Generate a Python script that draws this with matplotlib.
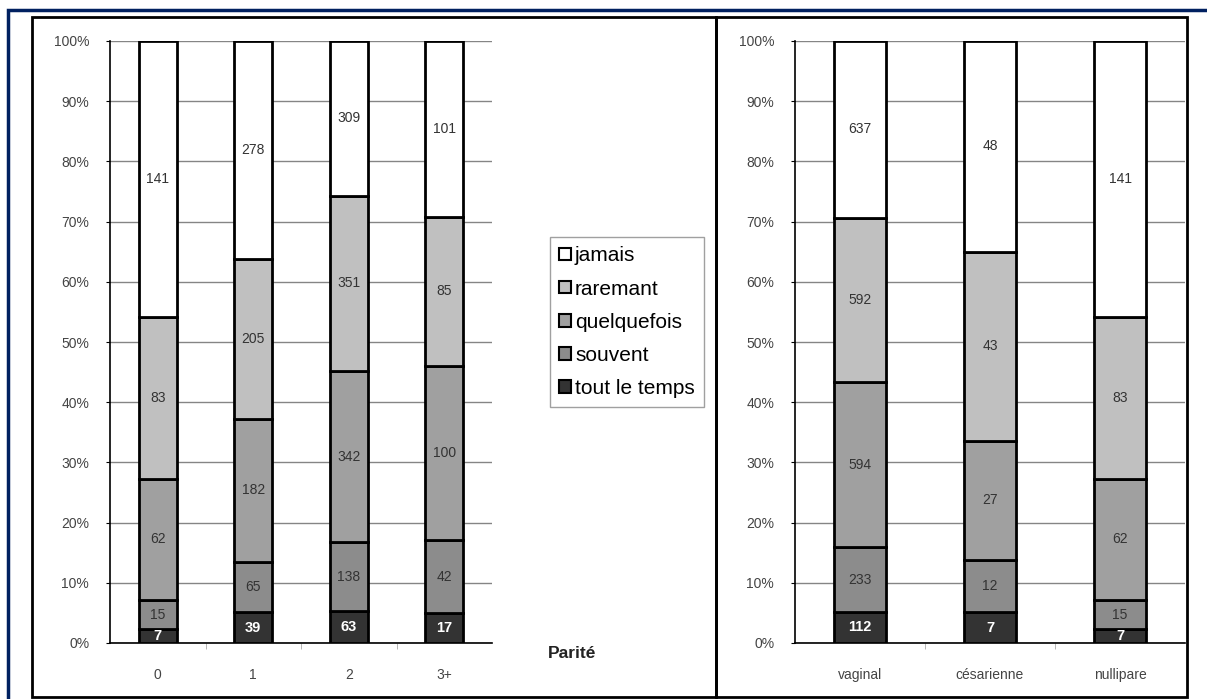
import matplotlib
matplotlib.use('Agg')
import matplotlib.pyplot as plt
import numpy as np
from matplotlib.patches import Rectangle, Patch
from matplotlib.ticker import FixedLocator, PercentFormatter

# Data: counts per frequency level, bottom to top
levels = ['tout le temps', 'souvent', 'quelquefois', 'raremant', 'jamais']
colors = ['#333333', '#8c8c8c', '#a0a0a0', '#c0c0c0', '#ffffff']

parite_cats = ['0', '1', '2', '3+']
parite_tout = [7, 39, 63, 17]
parite_souvent = [15, 65, 138, 42]
parite_quelque = [62, 182, 342, 100]
parite_rare = [83, 205, 351, 85]
parite_jamais = [141, 278, 309, 101]

mode_cats = ['vaginal', 'césarienne', 'nullipare']
mode_tout = [112, 7, 7]
mode_souvent = [233, 12, 15]
mode_quelque = [594, 27, 62]
mode_rare = [592, 43, 83]
mode_jamais = [637, 48, 141]

plt.rcParams['font.family'] = ['Liberation Sans', 'DejaVu Sans']

W, H = 1207, 699
fig = plt.figure(figsize=(W / 100, H / 100), dpi=100)


def px(x0, y0, x1, y1):
    # pixel box (top-left origin) -> figure fraction rect
    return [x0 / W, 1 - y1 / H, (x1 - x0) / W, (y1 - y0) / H]


def stacked(ax, cats, series):
    counts = np.array(series, dtype=float)
    pct = counts / counts.sum(axis=0) * 100
    x = np.arange(len(cats))
    bottom = np.zeros(len(cats))
    for i, (vals, p) in enumerate(zip(counts, pct)):
        ax.bar(x, p, 0.4, bottom=bottom, color=colors[i], edgecolor='black',
               linewidth=2, zorder=3)
        for xi, b, h, v in zip(x, bottom, p, vals):
            if i == 0:
                ax.text(xi, b + h / 2, f'{int(v)}', ha='center', va='center',
                        color='white', fontsize=10.5, fontweight='bold', zorder=4)
            else:
                ax.text(xi, b + h / 2, f'{int(v)}', ha='center', va='center',
                        color='#333333', fontsize=10, zorder=4)
        bottom += p
    ax.set_xlim(-0.5, len(cats) - 0.5)
    ax.set_ylim(0, 100)
    ax.set_yticks(np.arange(0, 101, 10))
    ax.yaxis.set_major_formatter(PercentFormatter(decimals=0))
    ax.yaxis.grid(True, color='#858585', linewidth=1, zorder=0)
    ax.set_xticks(x)
    ax.set_xticklabels(cats)
    ax.xaxis.set_minor_locator(FixedLocator(np.arange(0.5, len(cats) - 0.5, 1)))
    ax.tick_params(axis='x', which='major', length=0, pad=18, labelsize=10,
                   labelcolor='#444444')
    ax.tick_params(axis='x', which='minor', length=4, color='#aaaaaa')
    ax.tick_params(axis='y', length=3, pad=12, labelsize=10,
                   labelcolor='#444444')
    for s in ['top', 'right']:
        ax.spines[s].set_visible(False)
    ax.spines['left'].set_linewidth(1.2)
    ax.spines['bottom'].set_linewidth(1.2)


ax1 = fig.add_axes(px(110, 41, 492, 643))
stacked(ax1, parite_cats, [parite_tout, parite_souvent, parite_quelque,
                           parite_rare, parite_jamais])
ax1.text(1.21, -0.017, 'Parité', transform=ax1.transAxes, ha='center',
         va='center', fontsize=12.5, fontweight='bold', color='#222222')

ax2 = fig.add_axes(px(795, 41, 1185, 643))
stacked(ax2, mode_cats, [mode_tout, mode_souvent, mode_quelque,
                         mode_rare, mode_jamais])

# frames
fig.patches.append(Rectangle((8 / W, -0.1), 1.2, 1 - 10 / H + 0.1,
                             transform=fig.transFigure, fill=False,
                             edgecolor='#002060', linewidth=2.5))
fig.patches.append(Rectangle((32 / W, 1 - 697 / H), (716 - 32) / W, (697 - 17) / H,
                             transform=fig.transFigure, fill=False,
                             edgecolor='black', linewidth=2))
fig.patches.append(Rectangle((716 / W, 1 - 697 / H), (1187 - 716) / W, (697 - 17) / H,
                             transform=fig.transFigure, fill=False,
                             edgecolor='black', linewidth=2))

handles = [Patch(facecolor=colors[i], edgecolor='black', linewidth=1.5)
           for i in range(4, -1, -1)]
labels = [levels[i] for i in range(4, -1, -1)]
fig.legend(handles, labels, loc='upper left',
           bbox_to_anchor=(550 / W, 1 - 237 / H), frameon=True, fancybox=False,
           edgecolor='#888888', fontsize=15, handlelength=0.55, handleheight=0.55,
           handletextpad=0.2, labelspacing=0.68, borderpad=0.45,
           borderaxespad=0)

fig.savefig('out.png', dpi=100, facecolor='white')
